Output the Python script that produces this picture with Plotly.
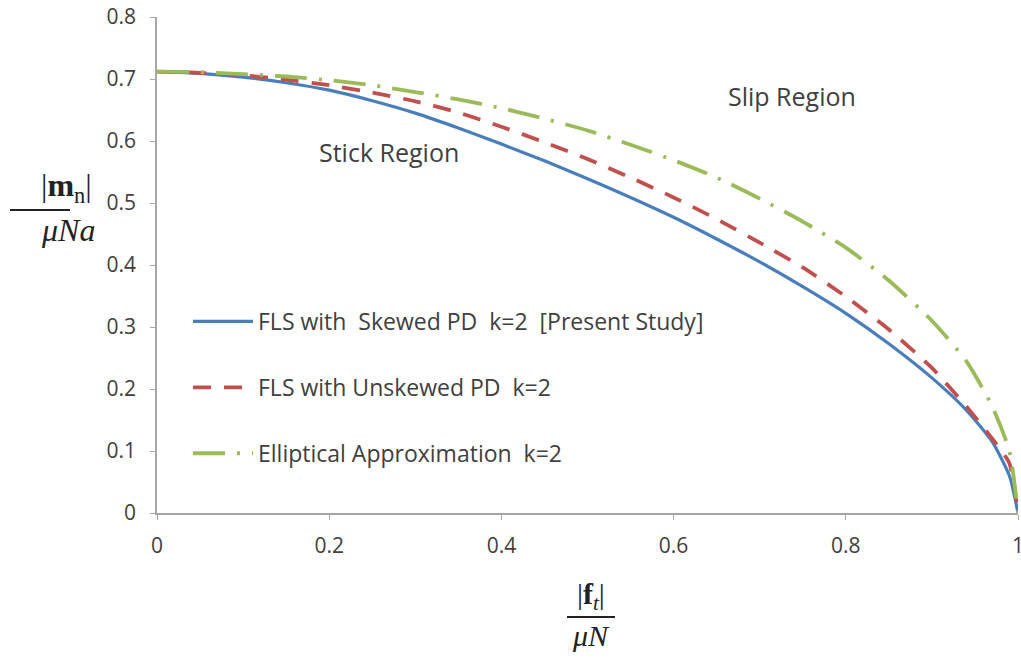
import plotly.graph_objects as go

x_vals = [0, 0.05, 0.1, 0.15, 0.2, 0.25, 0.3, 0.35, 0.4, 0.45, 0.5, 0.55, 0.6,
          0.65, 0.7, 0.75, 0.8, 0.85, 0.9, 0.94, 0.97, 0.99, 1.0]
skewed = [0.712, 0.709, 0.703, 0.694, 0.682, 0.665, 0.645, 0.621, 0.595, 0.568,
          0.539, 0.509, 0.477, 0.442, 0.405, 0.365, 0.322, 0.273, 0.218, 0.166,
          0.115, 0.060, 0.0]
unskewed = [0.712, 0.710, 0.706, 0.699, 0.690, 0.678, 0.664, 0.646, 0.623, 0.598,
            0.571, 0.541, 0.509, 0.474, 0.436, 0.396, 0.349, 0.296, 0.234, 0.172,
            0.120, 0.080, 0.0]
elliptical = [0.712, 0.711, 0.708, 0.704, 0.698, 0.690, 0.679, 0.667, 0.653, 0.636,
              0.617, 0.594, 0.569, 0.541, 0.507, 0.470, 0.428, 0.375, 0.310, 0.245,
              0.172, 0.100, 0.0]

names = ["FLS with  Skewed PD  k=2  [Present Study]",
         "FLS with Unskewed PD  k=2",
         "Elliptical Approximation  k=2"]
x_ticks = [0, 0.2, 0.4, 0.6, 0.8, 1]
x_ticklabels = ["0", "0.2", "0.4", "0.6", "0.8", "1"]
y_ticks = [0, 0.1, 0.2, 0.3, 0.4, 0.5, 0.6, 0.7, 0.8]
y_ticklabels = ["0", "0.1", "0.2", "0.3", "0.4", "0.5", "0.6", "0.7", "0.8"]

SANS = "Open Sans, Liberation Sans, sans-serif"
SERIF = "Liberation Serif, DejaVu Serif, serif"

fig = go.Figure()
fig.add_trace(go.Scatter(x=x_vals, y=skewed, mode="lines", name=names[0],
                         legendgroup="a", line=dict(color="#4A7EBB", width=3.2, shape="spline", smoothing=0.6)))
fig.add_trace(go.Scatter(x=x_vals, y=unskewed, mode="lines", name=names[1],
                         legendgroup="b", line=dict(color="#C0504D", width=3.8, dash="18px,13px", shape="spline", smoothing=0.6)))
fig.add_trace(go.Scatter(x=x_vals, y=elliptical, mode="lines", name=names[2],
                         legendgroup="c", line=dict(color="#9BBB59", width=3.8, dash="32px,12px,3px,12px", shape="spline", smoothing=0.6)))

tick_font = dict(family=SANS, size=21, color="#404040")

W, H = 1021, 659
L, R, T, B = 157, 3, 17, 146
pw, ph = W - L - R, H - T - B

fig.update_layout(
    width=W, height=H,
    margin=dict(l=L, r=R, t=T, b=B, autoexpand=False),
    plot_bgcolor="white", paper_bgcolor="white",
    showlegend=True,
    legend=dict(x=(188 - L) / pw, y=(H - B - 300) / ph, xanchor="left", yanchor="top",
                font=dict(family=SANS, size=23, color="#404040"),
                bgcolor="rgba(0,0,0,0)", tracegroupgap=33, itemwidth=60),
    xaxis=dict(range=[0, 1], tickvals=x_ticks, ticktext=x_ticklabels, showgrid=False,
               zeroline=False, showline=True, linecolor="#A6A6A6", linewidth=1.5,
               ticks="outside", ticklen=5, tickcolor="#A6A6A6", tickfont=tick_font,
               ticklabelstandoff=8, ticklabeloverflow="allow", automargin=False),
    yaxis=dict(range=[0, 0.8], tickvals=y_ticks, ticktext=y_ticklabels, showgrid=False,
               zeroline=False, showline=True, linecolor="#A6A6A6", linewidth=1.5,
               ticks="outside", ticklen=5, tickcolor="#A6A6A6", tickfont=tick_font,
               ticklabelstandoff=10, ticklabeloverflow="allow", automargin=False),
)

# region labels
fig.add_annotation(x=0.27, y=0.582, xref="x", yref="y", text="Stick Region", showarrow=False,
                   font=dict(family=SANS, size=25, color="#404040"))
fig.add_annotation(x=0.737, y=0.673, xref="x", yref="y", text="Slip Region", showarrow=False,
                   font=dict(family=SANS, size=25, color="#404040"))

def px_x(p):
    return (p - L) / pw

def px_y(p):
    return (H - B - p) / ph

def frac(cx, bar_y, x0, x1, top, bottom, size):
    f = dict(family=SERIF, size=size, color="#222222")
    fig.add_annotation(x=px_x(cx), y=px_y(bar_y - 1), xref="paper", yref="paper", text=top,
                       showarrow=False, font=f, yanchor="bottom", borderpad=0)
    fig.add_annotation(x=px_x(cx), y=px_y(bar_y + 1), xref="paper", yref="paper", text=bottom,
                       showarrow=False, font=f, yanchor="top", borderpad=0)
    fig.add_shape(type="line", xref="paper", yref="paper",
                  x0=px_x(x0), x1=px_x(x1), y0=px_y(bar_y), y1=px_y(bar_y),
                  line=dict(color="#222222", width=1.8))

frac(40, 210, 10, 70, "|<b>m</b><sub>n</sub>|", "<i>μNa</i>", 32)
frac(591, 617, 567, 615, "|<b>f</b><sub><i>t</i></sub>|", "<i>μN</i>", 30)

fig.write_html("out.html", config={"displayModeBar": False},
               post_script="document.body.style.margin='0px';document.body.style.overflow='hidden';")
